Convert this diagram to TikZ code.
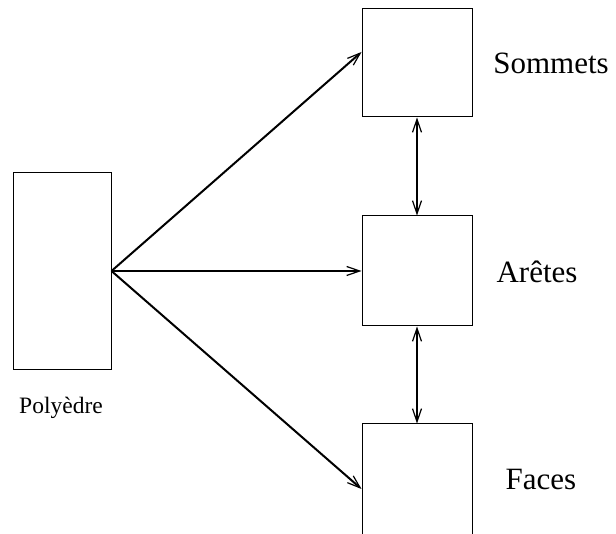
\documentclass[tikz,border=0pt]{standalone}
\usepackage{fontspec}
\setmainfont{Liberation Serif}
\usetikzlibrary{arrows.meta,positioning}
\tikzset{pin/.style={-{Straight Barb[length=13pt,width=9pt,line width=1.2pt]}, line width=2pt},
  bpin/.style={{Straight Barb[length=13pt,width=9pt,line width=1.2pt]}-{Straight Barb[length=13pt,width=9pt,line width=1.2pt]}, line width=2pt},
  blk/.style={draw, line width=1pt, minimum width=110pt, inner sep=0pt},
  lbl/.style={font=\fontsize{31}{36}\selectfont}}

\begin{document}
\begin{tikzpicture}[x=1pt,y=1pt]
  \useasboundingbox (0,0) rectangle (616,533);
  % polyedre
  \node[blk, minimum width=98pt, minimum height=197pt] (pol) at (62,262) {};
  \node[font=\fontsize{23.5}{28}\selectfont] (poltxt) at (61,125) {Polyèdre};
  % sommets, aretes, faces
  \node[blk, minimum height=108pt] (som) at (417,470) {};
  \node[lbl] (somtxt) at (551,470) {Sommets};
  \node[blk, minimum height=110pt] (are) at (417,262) {};
  \node[lbl] (aretxt) at (537,261) {Arêtes};
  \node[blk, minimum height=110pt] (fac) at (417,54) {};
  \node[lbl] (factxt) at (541,53) {Faces};
  % liens
  \draw[pin] (pol.east) -- ([yshift=11pt]som.west);
  \draw[pin] (pol.east) -- (are.west);
  \draw[pin] (pol.east) -- ([yshift=-10pt]fac.west);
  \draw[bpin] (som.south) -- (are.north);
  \draw[bpin] (are.south) -- (fac.north);
\end{tikzpicture}
\end{document}
